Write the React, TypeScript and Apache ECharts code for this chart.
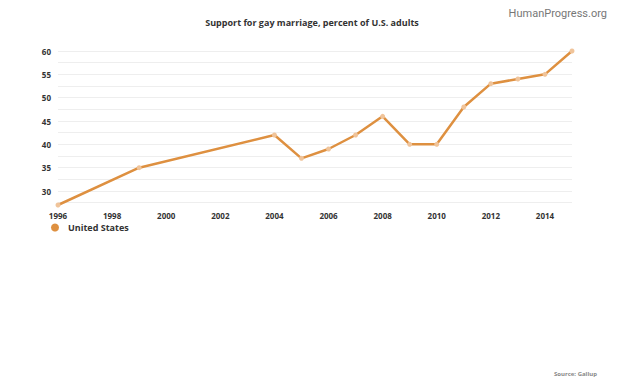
import React, { useEffect, useRef } from "react";
import * as echarts from "echarts";

const years = [1996, 1999, 2004, 2005, 2006, 2007, 2008, 2009, 2010, 2011, 2012, 2013, 2014, 2015];
const support = [27, 35, 42, 37, 39, 42, 46, 40, 40, 48, 53, 54, 55, 60];
const yLabels = [30, 35, 40, 45, 50, 55, 60];
const yGrid = [27.5, 30, 32.5, 35, 37.5, 40, 42.5, 45, 47.5, 50, 52.5, 55, 57.5, 60];
const seriesName = "United States";
const titleText = "Support for gay marriage, percent of U.S. adults";

export default function App() {
  const ref = useRef<HTMLDivElement>(null);
  useEffect(() => {
    const chart = echarts.init(ref.current!, null, { renderer: "svg" });
    chart.setOption({
      animation: false,
      textStyle: { fontFamily: "Open Sans" },
      title: [
        {
          text: titleText,
          left: "center",
          top: 13,
          textStyle: { fontSize: 9, fontWeight: "bold", color: "#333", fontFamily: "Open Sans" },
        },
        {
          text: "HumanProgress.org",
          right: 12,
          top: 3,
          textStyle: { fontSize: 11, fontWeight: "normal", color: "#777", fontFamily: "Roboto" },
        },
        {
          text: "Source: Gallup",
          right: 22,
          top: 366,
          textStyle: { fontSize: 6, fontWeight: "bold", color: "#888", fontFamily: "Open Sans" },
        },
      ],
      legend: {
        left: 46,
        top: 218,
        icon: "circle",
        itemWidth: 8,
        itemHeight: 8,
        itemGap: 6,
        itemStyle: { color: "#de9040" },
        textStyle: { fontSize: 9, fontWeight: "bold", color: "#333", padding: [0, 0, 0, 4] },
        data: [seriesName],
      },
      grid: { left: 58, right: 52, top: 51, height: 154, containLabel: false },
      xAxis: {
        type: "value",
        min: 1996,
        max: 2015,
        interval: 2,
        axisLine: { show: false },
        axisTick: { show: false },
        splitLine: { show: false },
        axisLabel: {
          fontSize: 8,
          fontWeight: "bold",
          color: "#333",
          margin: 6,
          showMaxLabel: false,
          formatter: (v: number) => String(v),
        },
      },
      yAxis: {
        type: "value",
        min: 27,
        max: 60,
        axisLine: { show: false },
        axisTick: { show: false, customValues: yGrid },
        axisLabel: { customValues: yLabels, fontSize: 8, fontWeight: "bold", color: "#333", margin: 7 },
        splitLine: { show: true, lineStyle: { color: "#eeeeee", width: 1 } },
      },
      series: [
        {
          name: seriesName,
          type: "line",
          data: years.map((y, i) => [y, support[i]]),
          color: "#de9040",
          lineStyle: { width: 2.5, color: "#de9040" },
          symbol: "circle",
          symbolSize: 5,
          itemStyle: { color: "#f0c49a" },
          showSymbol: true,
        },
      ],
    });
    return () => chart.dispose();
  }, []);
  return <div ref={ref} style={{ width: 624, height: 386, position: "absolute", left: 0, top: 0, background: "#fff" }} />;
}
